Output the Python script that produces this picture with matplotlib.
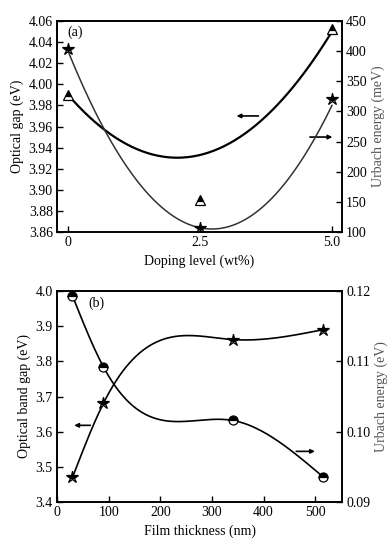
import numpy as np
import matplotlib
matplotlib.use("Agg")
import matplotlib.pyplot as plt

plt.rcParams['font.family'] = ['Liberation Serif', 'DejaVu Serif']
plt.rcParams['font.size'] = 10

# ---------- Panel (a) data ----------
doping = [0, 2.5, 5.0]
gap_a = [3.99, 3.89, 4.052]          # optical gap (eV), triangles
urbach_a = [404, 107, 321]           # Urbach energy (meV), stars
# fitted-curve anchor values
gap_fit_a = [3.99, 3.933, 4.05]
urbach_fit_a = [400, 107, 310]

# ---------- Panel (b) data ----------
thick = [30, 90, 340, 515]
gap_b = [3.47, 3.681, 3.862, 3.89]           # optical band gap (eV), stars
urbach_b = [0.1193, 0.1092, 0.1016, 0.0936]  # Urbach energy (eV), circles


def natural_spline(x, y, xs):
    x = np.asarray(x, float); y = np.asarray(y, float)
    n = len(x)
    h = np.diff(x)
    A = np.zeros((n, n)); r = np.zeros(n)
    A[0, 0] = A[-1, -1] = 1
    for i in range(1, n - 1):
        A[i, i - 1] = h[i - 1]
        A[i, i] = 2 * (h[i - 1] + h[i])
        A[i, i + 1] = h[i]
        r[i] = 3 * ((y[i + 1] - y[i]) / h[i] - (y[i] - y[i - 1]) / h[i - 1])
    c = np.linalg.solve(A, r)
    out = np.empty_like(xs)
    for k, xv in enumerate(xs):
        i = min(max(np.searchsorted(x, xv) - 1, 0), n - 2)
        dx = xv - x[i]
        b = (y[i + 1] - y[i]) / h[i] - h[i] * (2 * c[i] + c[i + 1]) / 3
        d = (c[i + 1] - c[i]) / (3 * h[i])
        out[k] = y[i] + b * dx + c[i] * dx ** 2 + d * dx ** 3
    return out


fig = plt.figure(figsize=(3.92, 5.45), dpi=100)

mk = dict(fillstyle='top', markerfacecolor='black', markerfacecoloralt='white',
          markeredgecolor='black', markeredgewidth=0.9, linestyle='none')


def style(ax):
    ax.tick_params(direction='in', length=4, width=1, labelsize=10, pad=3)
    for s in ax.spines.values():
        s.set_linewidth(1.2)


# ---------------- Panel (a) ----------------
ax1 = fig.add_axes([57 / 392, 1 - 232 / 545, 285 / 392, 211 / 545])
ax1r = ax1.twinx()
xs = np.linspace(0, 5, 200)
p1 = np.polyfit(doping, gap_fit_a, 2)
ax1.plot(xs, np.polyval(p1, xs), color='black', lw=1.6)
ax1.plot(doping, gap_a, marker='^', markersize=7.5, **mk)
p2 = np.polyfit(doping, urbach_fit_a, 2)
ax1r.plot(xs, np.polyval(p2, xs), color='#333333', lw=1.1)
ax1r.plot(doping, urbach_a, marker='*', markersize=9, **mk)

ax1.set_xlim(-0.21, 5.19)
ax1.set_ylim(3.86, 4.06)
ax1.set_yticks(np.arange(3.86, 4.061, 0.02))
ax1.set_yticklabels(['%.2f' % v for v in np.arange(3.86, 4.061, 0.02)])
ax1.set_xticks([0, 2.5, 5.0])
ax1.set_xticklabels(['0', '2.5', '5.0'])
ax1r.set_ylim(100, 450)
ax1r.set_yticks(range(100, 451, 50))
ax1.set_xlabel('Doping level (wt%)', fontsize=10, labelpad=4)
ax1.set_ylabel('Optical gap (eV)', fontsize=10, labelpad=3)
ax1r.set_ylabel('Urbach energy (meV)', fontsize=10, color='#555555', labelpad=3)
style(ax1); style(ax1r)
ax1.text(0.035, 0.948, '(a)', transform=ax1.transAxes, fontsize=10, va='center')
ax1.annotate('', xy=(3.14, 3.970), xytext=(3.66, 3.970),
             arrowprops=dict(arrowstyle='-|>', color='black', lw=1.2, mutation_scale=6))
ax1.annotate('', xy=(5.06, 3.950), xytext=(4.53, 3.950),
             arrowprops=dict(arrowstyle='-|>', color='black', lw=1.2, mutation_scale=6))

# ---------------- Panel (b) ----------------
ax2 = fig.add_axes([57 / 392, 1 - 502 / 545, 285 / 392, 211 / 545])
ax2r = ax2.twinx()
xs2 = np.linspace(thick[0], thick[-1], 300)
ax2.plot(xs2, natural_spline(thick, gap_b, xs2), color='black', lw=1.2)
ax2.plot(thick, gap_b, marker='*', markersize=9, **mk)
ax2r.plot(xs2, natural_spline(thick, urbach_b, xs2), color='black', lw=1.2)
ax2r.plot(thick, urbach_b, marker='o', markersize=6.5, **mk)

ax2.set_xlim(0, 552)
ax2.set_xticks(range(0, 501, 100))
ax2.set_ylim(3.4, 4.0)
ax2.set_yticks(np.arange(3.4, 4.01, 0.1))
ax2.set_yticklabels(['%.1f' % v for v in np.arange(3.4, 4.01, 0.1)])
ax2r.set_ylim(0.09, 0.12)
ax2r.set_yticks([0.09, 0.10, 0.11, 0.12])
ax2r.set_yticklabels(['0.09', '0.10', '0.11', '0.12'])
ax2.set_xlabel('Film thickness (nm)', fontsize=10, labelpad=4)
ax2.set_ylabel('Optical band gap (eV)', fontsize=10, labelpad=3)
ax2r.set_ylabel('Urbach energy (eV)', fontsize=10, color='#555555', labelpad=3)
style(ax2); style(ax2r)
ax2.text(0.109, 0.943, '(b)', transform=ax2.transAxes, fontsize=10, va='center')
ax2.annotate('', xy=(28, 3.618), xytext=(70, 3.618),
             arrowprops=dict(arrowstyle='-|>', color='black', lw=1.2, mutation_scale=6))
ax2r.annotate('', xy=(505, 0.0972), xytext=(458, 0.0972),
              arrowprops=dict(arrowstyle='-|>', color='black', lw=1.2, mutation_scale=6))

fig.savefig('out.png', dpi=100)
